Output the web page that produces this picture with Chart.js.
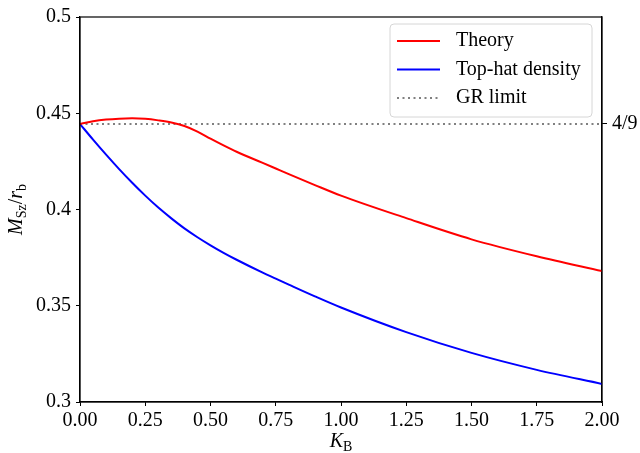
<!DOCTYPE html>
<html lang="en">
<head>
    <meta charset="UTF-8">
    <title>Schwarzschild mass vs K_B</title>
    <style>
        body { margin: 0; background: #fff; }
        #chart { display: block; }
    </style>
</head>
<body>
    <canvas id="chart" width="640" height="453"></canvas>
    <script src="https://cdn.jsdelivr.net/npm/chart.js"></script>
    <script>
        // values
        const kB = [0, 0.05, 0.1, 0.15, 0.2, 0.25, 0.3, 0.35, 0.4, 0.45, 0.5, 0.55, 0.6, 0.7, 0.75, 0.8, 0.9, 1.0, 1.25, 1.5, 1.75, 2.0];
        const theory = [0.4444, 0.4458, 0.4467, 0.4472, 0.4474, 0.4471, 0.4463, 0.4452, 0.4434, 0.4405, 0.4368, 0.4333, 0.4300, 0.4242, 0.4213, 0.4184, 0.4127, 0.4072, 0.3955, 0.3845, 0.3757, 0.3680];
        const topHat = [0.4444, 0.4363, 0.4285, 0.4210, 0.4139, 0.4072, 0.4010, 0.3954, 0.3902, 0.3856, 0.3814, 0.3775, 0.3739, 0.3672, 0.3641, 0.3610, 0.3549, 0.3491, 0.3363, 0.3255, 0.3167, 0.3094];
        const grK = [0, 2];
        const grLimit = 4 / 9;
        const xTicks = [0, 0.25, 0.5, 0.75, 1.0, 1.25, 1.5, 1.75, 2.0];
        const yTicks = [0.3, 0.35, 0.4, 0.45, 0.5];

        const FONT = '"Liberation Serif", "DejaVu Serif", serif';
        const tickFont = { family: FONT, size: 20 };

        const pts = (xs, ys) => xs.map((x, i) => ({ x: x, y: ys[i] }));

        // full box round the plot plus a matplotlib style legend and axis labels
        const decorations = {
            id: 'decorations',
            afterDraw(chart) {
                const ctx = chart.ctx;
                const a = chart.chartArea;
                ctx.save();
                ctx.strokeStyle = '#000';
                ctx.lineWidth = 1.2;
                ctx.strokeRect(a.left, a.top, a.right - a.left, a.bottom - a.top);

                // legend
                const bx = 390, by = 24, bw = 202, bh = 93, r = 4;
                ctx.beginPath();
                ctx.moveTo(bx + r, by);
                ctx.arcTo(bx + bw, by, bx + bw, by + bh, r);
                ctx.arcTo(bx + bw, by + bh, bx, by + bh, r);
                ctx.arcTo(bx, by + bh, bx, by, r);
                ctx.arcTo(bx, by, bx + bw, by, r);
                ctx.closePath();
                ctx.fillStyle = 'rgba(255,255,255,0.8)';
                ctx.fill();
                ctx.strokeStyle = '#d6d6d6';
                ctx.lineWidth = 1;
                ctx.stroke();

                ctx.font = '20px ' + FONT;
                ctx.textBaseline = 'middle';
                chart.data.datasets.forEach((ds, i) => {
                    const y = 41 + i * 28.5;
                    ctx.beginPath();
                    ctx.strokeStyle = ds.borderColor;
                    ctx.lineWidth = ds.borderWidth;
                    ctx.setLineDash(ds.borderDash || []);
                    ctx.moveTo(397, y);
                    ctx.lineTo(440, y);
                    ctx.stroke();
                    ctx.setLineDash([]);
                    ctx.fillStyle = '#000';
                    ctx.fillText(ds.label, 456, y);
                });

                // x title: K_B
                ctx.textBaseline = 'alphabetic';
                const cx = (a.left + a.right) / 2;
                ctx.font = 'italic 20px ' + FONT;
                const wK = ctx.measureText('K').width;
                ctx.font = '14px ' + FONT;
                const wB = ctx.measureText('B').width;
                let x0 = cx - (wK + wB) / 2;
                ctx.font = 'italic 20px ' + FONT;
                ctx.fillText('K', x0, 447);
                ctx.font = '14px ' + FONT;
                ctx.fillText('B', x0 + wK, 451);

                // y title: M_Sz / r_b
                const parts = [
                    { t: 'M', f: 'italic 20px ', dy: 0 },
                    { t: 'Sz', f: '14px ', dy: 4 },
                    { t: '/', f: '20px ', dy: 0 },
                    { t: 'r', f: 'italic 20px ', dy: 0 },
                    { t: 'b', f: '14px ', dy: 4 }
                ];
                let total = 0;
                parts.forEach(p => { ctx.font = p.f + FONT; p.w = ctx.measureText(p.t).width; total += p.w; });
                ctx.translate(22, (a.top + a.bottom) / 2);
                ctx.rotate(-Math.PI / 2);
                let px = -total / 2;
                parts.forEach(p => {
                    ctx.font = p.f + FONT;
                    ctx.fillText(p.t, px, p.dy);
                    px += p.w;
                });
                ctx.restore();
            }
        };

        new Chart(document.getElementById('chart'), {
            type: 'scatter',
            data: {
                datasets: [{
                    label: 'Theory',
                    data: pts(kB, theory),
                    showLine: true,
                    borderColor: '#ff0000',
                    borderWidth: 2,
                    pointRadius: 0,
                    cubicInterpolationMode: 'monotone'
                }, {
                    label: 'Top-hat density',
                    data: pts(kB, topHat),
                    showLine: true,
                    borderColor: '#0000ff',
                    borderWidth: 2,
                    pointRadius: 0,
                    cubicInterpolationMode: 'monotone'
                }, {
                    label: 'GR limit',
                    data: pts(grK, [grLimit, grLimit]),
                    showLine: true,
                    borderColor: '#808080',
                    borderWidth: 2,
                    borderDash: [2, 3.5],
                    pointRadius: 0
                }]
            },
            options: {
                responsive: false,
                animation: false,
                devicePixelRatio: 1,
                layout: { padding: { top: 14, left: 0, right: 0, bottom: 0 } },
                plugins: {
                    legend: { display: false },
                    tooltip: { enabled: false }
                },
                scales: {
                    x: {
                        type: 'linear',
                        min: 0,
                        max: 2,
                        afterBuildTicks: s => { s.ticks = xTicks.map(v => ({ value: v })); },
                        afterFit: s => { s.height = 51; },
                        ticks: {
                            font: tickFont,
                            color: '#000',
                            padding: 3,
                            maxRotation: 0,
                            autoSkip: false,
                            callback: v => v.toFixed(2)
                        },
                        grid: { drawOnChartArea: false, color: '#000', tickLength: 4, lineWidth: 1 },
                        border: { color: '#000', width: 1.2 }
                    },
                    y: {
                        min: 0.3,
                        max: 0.5,
                        afterBuildTicks: s => { s.ticks = yTicks.map(v => ({ value: v })); },
                        afterFit: s => { s.width = 80; },
                        ticks: {
                            font: tickFont,
                            color: '#000',
                            padding: 5,
                            autoSkip: false,
                            callback: v => String(Number(v.toFixed(2)))
                        },
                        grid: { drawOnChartArea: false, color: '#000', tickLength: 4, lineWidth: 1 },
                        border: { color: '#000', width: 1.2 }
                    },
                    y2: {
                        position: 'right',
                        min: 0.3,
                        max: 0.5,
                        afterBuildTicks: s => { s.ticks = [{ value: grLimit }]; },
                        afterFit: s => { s.width = 38; },
                        ticks: {
                            font: tickFont,
                            color: '#000',
                            padding: 5,
                            callback: () => '4/9'
                        },
                        grid: { drawOnChartArea: false, color: '#000', tickLength: 5, lineWidth: 1 },
                        border: { color: '#000', width: 1.2 }
                    }
                }
            },
            plugins: [decorations]
        });
    </script>
</body>
</html>
